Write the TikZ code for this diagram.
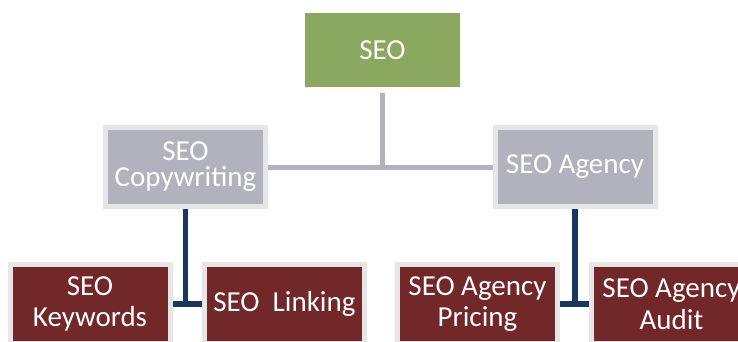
\documentclass[tikz,border=0pt]{standalone}
\usepackage{fontspec}
\setmainfont{Carlito}
\usetikzlibrary{backgrounds}
\definecolor{seogreen}{HTML}{8AA85F}
\definecolor{midgray}{HTML}{B2B1BE}
\definecolor{edgegray}{HTML}{E6E6E6}
\definecolor{maroon}{HTML}{722828}
\definecolor{navy}{HTML}{17375E}
\tikzset{
  basebox/.style={inner sep=0pt, align=center, text=white},
  topbox/.style={basebox, fill=seogreen, minimum width=155pt, minimum height=74pt,
    font=\fontsize{29}{31}\selectfont},
  midbox/.style={basebox, fill=midgray, draw=edgegray, line width=5pt,
    minimum width=160pt, minimum height=79pt, font=\fontsize{29}{26}\selectfont},
  lowbox/.style={basebox, fill=maroon, draw=edgegray, line width=5pt,
    minimum width=160pt, minimum height=79pt, font=\fontsize{29}{31.5}\selectfont},
  grayline/.style={draw=midgray, line width=5pt},
  navyline/.style={draw=navy, line width=5.5pt},
}
\begin{document}
\begin{tikzpicture}[x=1pt, y=-1pt]
\useasboundingbox (0,0) rectangle (738,341);
\clip (0,0) rectangle (738,341);
\node[topbox] (seo) at (382.5,50) {SEO};
\node[midbox] (copy) at (185.5,167) {SEO\\Copywriting};
\node[midbox] (agency) at (575,167) {SEO Agency};
\node[lowbox] (keywords) at (90,304) {SEO\\Keywords};
\node[lowbox] (linking) at (284.5,304) {SEO\ \ Linking};
\node[lowbox] (pricing) at (477.5,304) {SEO Agency\\Pricing};
\node[lowbox] (audit) at (671.5,304) {SEO Agency\\Audit};
\begin{scope}[on background layer]
\draw[grayline, shorten <=6pt] (seo.south) -- (seo.south |- copy.east);
\draw[grayline] (copy.east) -- (agency.west);
\draw[navyline] (copy.south) -- (copy.south |- keywords.east);
\draw[navyline] (keywords.east) -- (linking.west);
\draw[navyline] (agency.south) -- (agency.south |- pricing.east);
\draw[navyline] (pricing.east) -- (audit.west);
\end{scope}
\end{tikzpicture}
\end{document}
